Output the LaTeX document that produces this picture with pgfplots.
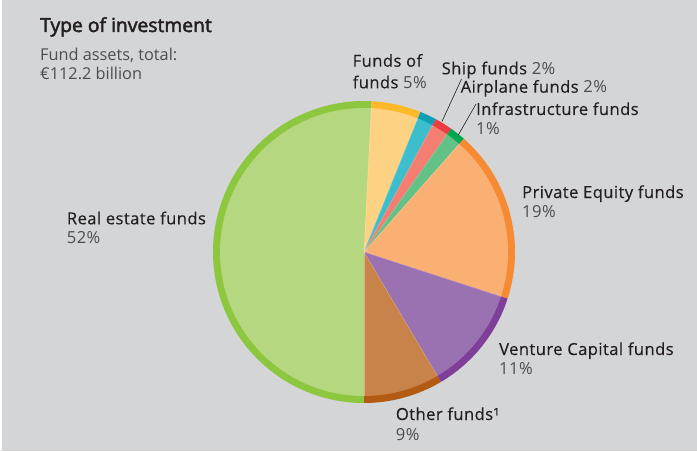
\documentclass[border=0pt]{standalone}
\usepackage{pgfplots}
\pgfplotsset{compat=1.18}
\usepackage{pgfplotstable}
\usepackage{fontspec}
\setmainfont{Open Sans}
\newfontfamily\titlefont{Open Sans}[FakeBold=2.4]
\newfontfamily\namefont{Open Sans}[FakeBold=0.35, LetterSpace=2.5]
\newfontfamily\pctfont{Open Sans}[LetterSpace=2.5]
\definecolor{bg}{RGB}{212,213,215}
\definecolor{nameC}{RGB}{35,31,32}
\definecolor{pctC}{RGB}{77,77,79}
\definecolor{reF}{RGB}{181,215,127}
\definecolor{reR}{RGB}{141,198,63}
\definecolor{fofF}{RGB}{253,211,131}
\definecolor{fofR}{RGB}{253,185,43}
\definecolor{shipF}{RGB}{60,190,204}
\definecolor{shipR}{RGB}{14,159,181}
\definecolor{airF}{RGB}{244,126,114}
\definecolor{airR}{RGB}{238,58,67}
\definecolor{infF}{RGB}{98,193,135}
\definecolor{infR}{RGB}{0,166,80}
\definecolor{peF}{RGB}{251,176,115}
\definecolor{peR}{RGB}{246,139,51}
\definecolor{vcF}{RGB}{155,114,177}
\definecolor{vcR}{RGB}{127,63,152}
\definecolor{othF}{RGB}{200,131,74}
\definecolor{othR}{RGB}{179,90,19}
\pgfplotstableread{
value fillc ringc
50.8 reF reR
5.3 fofF fofR
1.8 shipF shipR
1.9 airF airR
1.7 infF infR
18.5 peF peR
11.5 vcF vcR
8.5 othF othR
}\piedata
\tikzset{
  nm/.style={anchor=base west, inner sep=0pt, font=\fontsize{16.6}{19}\namefont, text=nameC},
  pc/.style={anchor=base west, inner sep=0pt, font=\fontsize{16.6}{19}\pctfont, text=pctC},
  sub/.style={anchor=base west, inner sep=0pt, font=\fontsize{16.3}{19}\selectfont, text=pctC}
}
\newcommand{\pct}[1]{{\pctfont\color{pctC}#1}}
\begin{document}
\begin{tikzpicture}
\begin{axis}[x=1pt, y=1pt, xmin=0, xmax=697, ymin=0, ymax=451,
  scale only axis, hide axis, clip=false]
\fill[bg] (axis cs:0,0) rectangle (axis cs:697,451);
\fill[white] (axis cs:0,0) rectangle (axis cs:2,451);
\def\cur{270}
\pgfplotsforeachungrouped \i in {0,...,7}{%
  \pgfplotstablegetelem{\i}{value}\of\piedata \let\v\pgfplotsretval
  \pgfplotstablegetelem{\i}{fillc}\of\piedata \let\fc\pgfplotsretval
  \pgfplotstablegetelem{\i}{ringc}\of\piedata \let\rc\pgfplotsretval
  \pgfmathsetmacro\nxt{\cur-3.6*\v}%
  \edef\tmp{\noexpand\fill[\rc] (axis cs:364,199) -- ++(\cur:151pt) arc[start angle=\cur, end angle=\nxt, radius=151pt] -- cycle;
    \noexpand\fill[\fc] (axis cs:364,199) -- ++(\cur:144pt) arc[start angle=\cur, end angle=\nxt, radius=144pt] -- cycle;}%
  \tmp
  \let\cur\nxt
}
\def\cur{270}
\pgfplotsforeachungrouped \i in {0,...,7}{%
  \pgfplotstablegetelem{\i}{value}\of\piedata \let\v\pgfplotsretval
  \edef\tmp{\noexpand\draw[white, opacity=0.35, line width=0.5pt] (axis cs:364,199) -- ++(\cur:144pt);}%
  \tmp
  \pgfmathsetmacro\nxt{\cur-3.6*\v}%
  \let\cur\nxt
}
\draw[nameC, line width=0.6pt] (axis cs:442,329.5) -- (axis cs:461.5,372);
\draw[nameC, line width=0.6pt] (axis cs:458.3,316) -- (axis cs:476,347);
\node[anchor=base west, inner sep=0pt, font=\fontsize{19.3}{22}\titlefont, text=nameC] at (axis cs:40,419) {Type of investment};
\node[sub] at (axis cs:40,390) {Fund assets, total:};
\node[sub] at (axis cs:40,371) {€112.2 billion};
\node[nm] at (axis cs:352.5,384.3) {Funds of};
\node[nm] at (axis cs:352.5,362.7) {funds \pct{5\%}};
\node[nm] at (axis cs:441.5,376.7) {Ship funds \pct{2\%}};
\node[nm] at (axis cs:460.5,358.3) {Airplane funds \pct{2\%}};
\node[nm] at (axis cs:476,336) {Infrastructure funds};
\node[pc] at (axis cs:476,316.7) {1\%};
\node[nm] at (axis cs:522,253) {Private Equity funds};
\node[pc] at (axis cs:522,233.5) {19\%};
\node[nm] at (axis cs:66.7,226.7) {Real estate funds};
\node[pc] at (axis cs:66.7,207.7) {52\%};
\node[nm] at (axis cs:499,96) {Venture Capital funds};
\node[pc] at (axis cs:499,76.7) {11\%};
\node[nm] at (axis cs:395.7,31) {Other funds¹};
\node[pc] at (axis cs:395.7,11) {9\%};
\end{axis}
\end{tikzpicture}
\end{document}
